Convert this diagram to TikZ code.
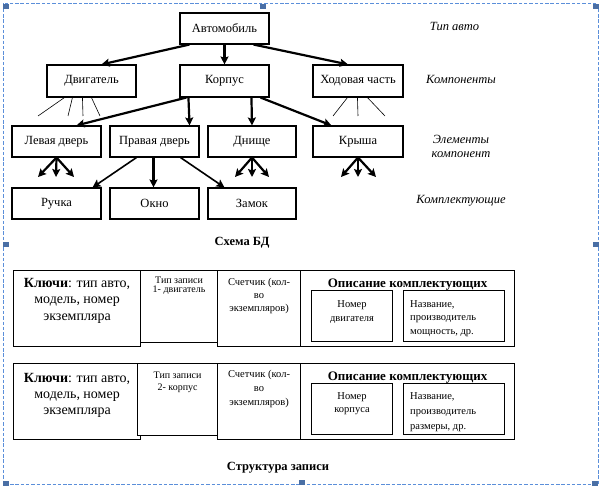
\documentclass[tikz,border=0pt]{standalone}
\usepackage{fontspec}
\setmainfont{Liberation Serif}
\usetikzlibrary{arrows.meta,calc}
\definecolor{selblue}{HTML}{5B8FDA}
\definecolor{handlec}{HTML}{4A6FA5}
\begin{document}
\begin{tikzpicture}[x=1pt,y=-1pt,
  box/.style={draw,line width=1.1pt,inner sep=0pt,font=\fontsize{12.5}{14}\selectfont},
  cell/.style={draw,line width=1.1pt,inner sep=0pt,fill=white,anchor=north west},
  arr/.style={line width=2.2pt,-{Stealth[length=8pt,width=8pt,inset=1.5pt]}},
  fan/.style={line width=0.6pt},
  lbl/.style={font=\fontsize{12.5}{14.5}\selectfont\itshape,align=center,inner sep=0pt},
  ttl/.style={font=\fontsize{12.5}{14}\selectfont\bfseries,inner sep=0pt},
  txt/.style={inner sep=0pt,anchor=north,align=center},
  hnd/.style={fill=handlec,draw=none}
]
\useasboundingbox (0,0) rectangle (602,489);
% selection frame
\draw[selblue,line width=0.9pt,dash pattern=on 3.5pt off 1.8pt] (3.5,3.5) rectangle (598,484.5);
\foreach \hx/\hy in {3/4,260/4,593/4,3/242,593/242,3/481,299/480,592/481}
  \fill[handlec] (\hx,\hy) rectangle ++(6,5);

% ---- Schema
\node[box,minimum width=89,minimum height=31] (avto) at (224.5,28.5) {Автомобиль};
\node[box,minimum width=89,minimum height=32] (dvig) at (91.5,81) {Двигатель};
\node[box,minimum width=89,minimum height=32] (korp) at (224.5,81) {Корпус};
\node[box,minimum width=90,minimum height=32] (hod) at (358,81) {Ходовая часть};
\node[box,minimum width=89,minimum height=31] (lev) at (56.5,141.5) {Левая дверь};
\node[box,minimum width=89,minimum height=31] (prav) at (154.5,141.5) {Правая дверь};
\node[box,minimum width=88,minimum height=31] (dno) at (252,141.5) {Днище};
\node[box,minimum width=90,minimum height=31] (krysha) at (358,141.5) {Крыша};
\node[box,minimum width=89,minimum height=31] (ruch) at (56.5,203.5) {Ручка};
\node[box,minimum width=89,minimum height=31] (okno) at (154.5,203.5) {Окно};
\node[box,minimum width=88,minimum height=31] (zamok) at (252,203.5) {Замок};

\node[lbl] (l1) at (454.5,26) {Тип авто};
\node[lbl] (l2) at (461,79) {Компоненты};
\node[lbl] (l3) at (461,146.5) {Элементы\\компонент};
\node[lbl] (l4) at (461,201) {Комплектующие};
\node[ttl] (schema) at (242,243) {Схема БД};

% arrows
\draw[arr] ([xshift=10pt]avto.south west) -- ([xshift=55pt]dvig.north west);
\draw[arr] (avto.south) -- (korp.north);
\draw[arr] ([xshift=-16pt]avto.south east) -- ([xshift=-10pt]hod.north);
\draw[arr] ([xshift=7pt]korp.south west) -- ([xshift=65pt]lev.north west);
\draw[arr] ([xshift=9pt]korp.south west) -- ([xshift=-10pt]prav.north east);
\draw[arr] ([xshift=72pt]korp.south west) -- (dno.north);
\draw[arr] ([xshift=-9pt]korp.south east) -- ([xshift=19pt]krysha.north west);

% fans
\coordinate (fd1) at (38,116); \coordinate (fd2) at (68,116);
\coordinate (fd3) at (83,116); \coordinate (fd4) at (100,116);
\draw[fan] ([xshift=18pt]dvig.south west) -- (fd1);
\draw[fan] ([xshift=26pt]dvig.south west) -- (fd2);
\draw[fan] ([xshift=36pt]dvig.south west) -- (fd3);
\draw[fan] ([xshift=45pt]dvig.south west) -- (fd4);
\coordinate (fh1) at (333,116); \coordinate (fh2) at (358,116); \coordinate (fh3) at (385,116);
\draw[fan] ([xshift=35pt]hod.south west) -- (fh1);
\draw[fan] ([xshift=45pt]hod.south west) -- (fh2);
\draw[fan] ([xshift=55pt]hod.south west) -- (fh3);

% element fans
\coordinate (la1) at (38,177); \coordinate (la2) at (56,177); \coordinate (la3) at (74,177);
\foreach \c in {la1,la2,la3} \draw[arr] (lev.south) -- (\c);
\coordinate (da1) at (235,177); \coordinate (da2) at (252,177); \coordinate (da3) at (269,177);
\foreach \c in {da1,da2,da3} \draw[arr] (dno.south) -- (\c);
\coordinate (ka1) at (341,177); \coordinate (ka2) at (358,177); \coordinate (ka3) at (376,177);
\foreach \c in {ka1,ka2,ka3} \draw[arr] (krysha.south) -- (\c);
\draw[arr,line width=1.6pt] ([xshift=27pt]prav.south west) -- ([xshift=-9pt]ruch.north east);
\draw[arr] ([xshift=-1pt]prav.south) -- ([xshift=-1pt]okno.north);
\draw[arr,line width=1.6pt] ([xshift=-19pt]prav.south east) -- ([xshift=17pt]zamok.north west);

% ---- Record structure 1
\node[cell,minimum width=127,minimum height=76] (k1) at (13,270) {};
\node[cell,minimum width=77,minimum height=72] (t1) at (140,270) {};
\node[cell,minimum width=83,minimum height=76] (c1) at (217,270) {};
\node[cell,minimum width=214,minimum height=76] (o1) at (300,270) {};
\node[cell,minimum width=81,minimum height=51] (n1) at (311,290) {};
\node[cell,minimum width=101,minimum height=51] (d1) at (403,290) {};
\node[txt,font=\fontsize{14}{16.5}\selectfont] (k1t) at (k1.north |- 0,278) {\textbf{Ключи}: тип авто,\\модель, номер\\экземпляра};
\node[txt,font=\fontsize{10}{8.5}\selectfont] (t1t) at (t1.north |- 0,277) {Тип записи\\1- двигатель};
\node[txt,font=\fontsize{10.5}{13}\selectfont] (c1t) at (c1.north |- 0,278.5) {Счетчик (кол-\\во\\экземпляров)};
\node[txt,font=\fontsize{13}{15}\selectfont\bfseries] (o1t) at (o1.north |- 0,278.5) {Описание комплектующих};
\node[txt,font=\fontsize{10.5}{14.5}\selectfont] (n1t) at (n1.north |- 0,300) {Номер\\двигателя};
\node[txt,font=\fontsize{10.5}{13.5}\selectfont,align=left,anchor=north west] (d1t) at (410,300) {Название,\\производитель\\мощность, др.};

% ---- Record structure 2
\node[cell,minimum width=127,minimum height=76] (k2) at (13,363) {};
\node[cell,minimum width=80,minimum height=72] (t2) at (137,363) {};
\node[cell,minimum width=83,minimum height=76] (c2) at (217,363) {};
\node[cell,minimum width=214,minimum height=76] (o2) at (300,363) {};
\node[cell,minimum width=81,minimum height=51] (n2) at (311,383) {};
\node[cell,minimum width=101,minimum height=51] (d2) at (403,383) {};
\node[txt,font=\fontsize{14}{16}\selectfont] (k2t) at (k1.north |- 0,373) {\textbf{Ключи}: тип авто,\\модель, номер\\экземпляра};
\node[txt,font=\fontsize{10}{12}\selectfont] (t2t) at (t2.north |- 0,371.5) {Тип записи\\2- корпус};
\node[txt,font=\fontsize{10.5}{14}\selectfont] (c2t) at (c2.north |- 0,370) {Счетчик (кол-\\во\\экземпляров)};
\node[txt,font=\fontsize{13}{15}\selectfont\bfseries] (o2t) at (o2.north |- 0,371.5) {Описание комплектующих};
\node[txt,font=\fontsize{10.5}{13.5}\selectfont] (n2t) at (n2.north |- 0,392) {Номер\\корпуса};
\node[txt,font=\fontsize{10.5}{15}\selectfont,align=left,anchor=north west] (d2t) at (410,392) {Название,\\производитель\\размеры, др.};

\node[ttl] (struct) at (278,468) {Структура записи};
\end{tikzpicture}
\end{document}
